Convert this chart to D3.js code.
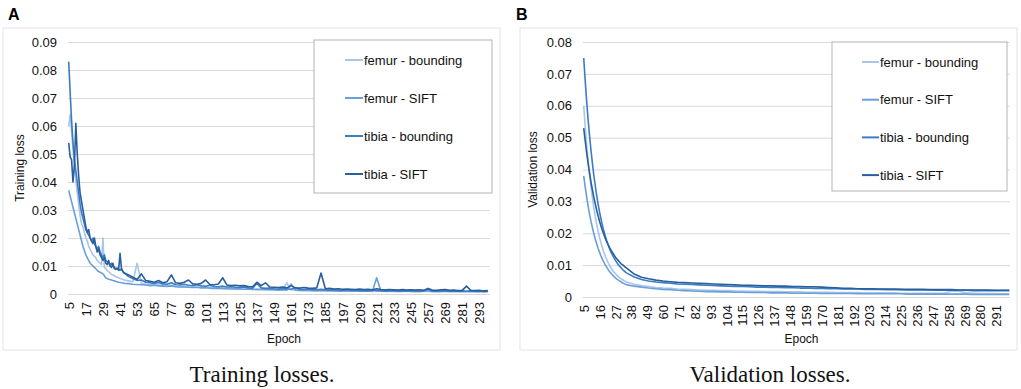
<!DOCTYPE html>
<html>
<head>
<meta charset="utf-8">
<script src="https://cdn.jsdelivr.net/npm/d3@7"></script>
<style>
  body { margin: 0; background: #fff; }
  svg { display: block; font-family: "Liberation Sans", Arial, sans-serif; }
</style>
</head>
<body>
<div id="chart"></div>
<script>
// ---- data ----
const seriesNames = ["femur - bounding", "femur - SIFT", "tibia - bounding", "tibia - SIFT"];
const seriesColors = ["#a9c5e8", "#6a9fd9", "#3b7cc5", "#2a5f9e"];

// every epoch on the category axis
const allEpochs = d3.range(5, 301);

// training: every epoch up to 44, then every 3rd epoch
const trainEpochs = d3.range(5, 45).concat(d3.range(47, 300, 3));
const trainYTicks = [0, 0.01, 0.02, 0.03, 0.04, 0.05, 0.06, 0.07, 0.08, 0.09];

const trainFemurBounding = [
  .060, .064, .058, .052, .046, .041, .036, .032, .028, .025,
  .024, .022, .020, .019, .017, .016, .015, .014, .0135, .013,
  .012, .0115, .011, .0105, .020, .0095, .009, .0085, .008, .0075,
  .007, .0068, .0065, .0062, .006, .0058, .0056, .0054, .0052, .005,
  .0047, .0044, .0110, .0038, .0035, .0034, .0032, .0033, .0030, .0029,
  .0031, .0027, .0026, .0028, .0025, .0024, .0025, .0023, .0022, .0024,
  .0021, .0020, .0022, .0019, .0020, .0018, .0019, .0017, .0018, .0016,
  .0017, .0016, .0017, .0015, .0016, .0015, .0014, .0040, .0015, .0014,
  .0013, .0014, .0013, .0012, .0013, .0012, .0013, .0011, .0012, .0011,
  .0012, .0010, .0011, .0010, .0011, .0010, .0011, .0009, .0010, .0011,
  .0009, .0010, .0009, .0010, .0009, .0010, .0009, .0008, .0009, .0010,
  .0009, .0008, .0009, .0008, .0009, .0008, .0009, .0008, .0008, .0009,
  .0008, .0007, .0008, .0007, .0008
];
const trainFemurSift = [
  .037, .035, .033, .031, .029, .027, .025, .023, .021, .019,
  .017, .0155, .014, .013, .012, .011, .0105, .010, .0095, .009,
  .0085, .008, .0078, .0075, .0072, .0065, .0058, .0055, .0053, .0052,
  .005, .0048, .0047, .0045, .0044, .0042, .0041, .004, .0039, .0038,
  .0037, .0035, .0034, .0033, .0032, .0030, .0031, .0029, .0028, .0027,
  .0029, .0026, .0025, .0026, .0024, .0023, .0024, .0022, .0023, .0021,
  .0020, .0021, .0019, .0020, .0018, .0019, .0018, .0017, .0018, .0016,
  .0017, .0016, .0015, .0016, .0015, .0014, .0015, .0014, .0035, .0014,
  .0013, .0014, .0013, .0012, .0013, .0012, .0013, .0012, .0011, .0012,
  .0011, .0012, .0011, .0010, .0011, .0010, .0011, .0010, .0058, .0011,
  .0010, .0011, .0010, .0009, .0010, .0011, .0009, .0010, .0009, .0010,
  .0012, .0009, .0010, .0009, .0012, .0009, .0010, .0009, .0010, .0009,
  .0010, .0009, .0010, .0009, .0009
];
const trainTibiaBounding = [
  .083, .072, .062, .054, .048, .044, .040, .036, .032, .029,
  .027, .025, .023, .022, .021, .020, .019, .020, .018, .017,
  .016, .017, .015, .014, .013, .014, .012, .0115, .011, .0105,
  .011, .010, .0095, .009, .0092, .0088, .0085, .009, .008, .0075,
  .0062, .0055, .0048, .0050, .0042, .0040, .0038, .0041, .0036, .0035,
  .0040, .0033, .0032, .0035, .0031, .0030, .0033, .0029, .0028, .0031,
  .0027, .0026, .0028, .0025, .0026, .0024, .0023, .0025, .0022, .0021,
  .0038, .0022, .0020, .0021, .0019, .0018, .0020, .0018, .0017, .0022,
  .0017, .0016, .0018, .0016, .0015, .0017, .0015, .0014, .0016, .0014,
  .0013, .0015, .0013, .0014, .0012, .0013, .0012, .0014, .0012, .0013,
  .0011, .0012, .0013, .0011, .0012, .0011, .0013, .0011, .0010, .0012,
  .0018, .0011, .0010, .0012, .0011, .0010, .0011, .0010, .0011, .0010,
  .0011, .0010, .0011, .0009, .0010
];
const trainTibiaSift = [
  .054, .049, .048, .040, .046, .061, .050, .042, .036, .033,
  .030, .027, .024, .022, .023, .020, .019, .018, .020, .017,
  .015, .016, .014, .013, .012, .013, .011, .0105, .012, .010,
  .0095, .011, .009, .0088, .0092, .0085, .0145, .009, .008, .0075,
  .0068, .0060, .0052, .0072, .0048, .0045, .0042, .0048, .0040, .0044,
  .0068, .0040, .0038, .0042, .0050, .0036, .0035, .0038, .0050, .0034,
  .0033, .0036, .0058, .0032, .0030, .0031, .0029, .0030, .0027, .0026,
  .0042, .0030, .0040, .0025, .0024, .0023, .0025, .0022, .0030, .0022,
  .0021, .0023, .0021, .0020, .0022, .0075, .0019, .0020, .0018, .0019,
  .0017, .0018, .0017, .0016, .0018, .0016, .0017, .0015, .0019, .0016,
  .0015, .0016, .0015, .0014, .0016, .0014, .0015, .0014, .0015, .0013,
  .0020, .0014, .0013, .0015, .0016, .0013, .0014, .0012, .0013, .0028,
  .0013, .0012, .0013, .0011, .0012
];

// validation: every epoch up to 34, then every 5th epoch
const valEpochs = d3.range(5, 35).concat(d3.range(35, 301, 5));
const valYTicks = [0, 0.01, 0.02, 0.03, 0.04, 0.05, 0.06, 0.07, 0.08];

const valFemurBounding = [
  .0600, .0537, .0480, .0431, .0386, .0346, .0312, .0280, .0252, .0228,
  .0206, .0186, .0169, .0154, .0140, .0127, .0117, .0107, .0098, .0091,
  .0084, .0078, .0073, .0068, .0064, .0060, .0057, .0054, .0051, .0049,
  .0046, .0040, .0036, .0033, .0030, .0028, .0027, .0025, .0024, .0023,
  .0022, .0021, .0021, .0020, .0020, .0019, .0019, .0018, .0018, .0017,
  .0017, .0017, .0016, .0016, .0016, .0015, .0015, .0015, .0015, .0014,
  .0014, .0014, .0014, .0013, .0013, .0013, .0013, .0013, .0012, .0012,
  .0012, .0012, .0012, .0012, .0012, .0019, .0018, .0013, .0012, .0011,
  .0011, .0011, .0010, .0010
];
const valFemurSift = [
  .0380, .0346, .0315, .0287, .0261, .0238, .0218, .0199, .0182, .0167,
  .0152, .0140, .0128, .0118, .0109, .0100, .0093, .0086, .0079, .0074,
  .0069, .0064, .0060, .0056, .0053, .0050, .0047, .0044, .0042, .0040,
  .0038, .0034, .0031, .0028, .0026, .0024, .0023, .0021, .0020, .0019,
  .0018, .0017, .0017, .0016, .0016, .0015, .0015, .0014, .0014, .0014,
  .0013, .0013, .0013, .0012, .0012, .0012, .0012, .0011, .0011, .0011,
  .0011, .0011, .0010, .0010, .0010, .0010, .0010, .0010, .0010, .0009,
  .0009, .0009, .0009, .0009, .0009, .0009, .0009, .0009, .0008, .0008,
  .0008, .0008, .0008, .0008
];
const valTibiaBounding = [
  .0750, .0680, .0616, .0559, .0508, .0462, .0420, .0382, .0349, .0318,
  .0291, .0266, .0244, .0224, .0206, .0190, .0176, .0163, .0151, .0140,
  .0131, .0123, .0115, .0108, .0101, .0096, .0091, .0086, .0082, .0078,
  .0075, .0063, .0055, .0050, .0047, .0045, .0043, .0041, .0040, .0039,
  .0038, .0037, .0036, .0035, .0034, .0033, .0033, .0032, .0031, .0031,
  .0030, .0030, .0029, .0029, .0028, .0028, .0027, .0027, .0026, .0026,
  .0025, .0025, .0025, .0024, .0024, .0024, .0023, .0023, .0023, .0022,
  .0022, .0022, .0022, .0021, .0021, .0021, .0021, .0021, .0020, .0020,
  .0020, .0020, .0020, .0020
];
const valTibiaSift = [
  .0530, .0491, .0454, .0421, .0390, .0362, .0337, .0313, .0292, .0272,
  .0254, .0237, .0222, .0208, .0196, .0184, .0173, .0163, .0154, .0146,
  .0139, .0132, .0125, .0119, .0114, .0109, .0104, .0101, .0097, .0093,
  .0090, .0072, .0062, .0057, .0053, .0050, .0048, .0046, .0045, .0044,
  .0043, .0042, .0041, .0040, .0039, .0038, .0037, .0037, .0036, .0035,
  .0035, .0034, .0034, .0033, .0033, .0032, .0032, .0031, .0030, .0029,
  .0027, .0027, .0026, .0026, .0026, .0025, .0025, .0025, .0024, .0024,
  .0024, .0024, .0023, .0023, .0023, .0023, .0022, .0022, .0022, .0022,
  .0022, .0021, .0021, .0021
];

const width = 1021, height = 389;
const svg = d3.select("#chart").append("svg")
    .attr("width", width).attr("height", height)
    .attr("viewBox", [0, 0, width, height]);

const drawPanel = (opt) => {
    // outer frame
    svg.append("rect")
        .attr("x", opt.frame[0]).attr("y", opt.frame[1])
        .attr("width", opt.frame[2]).attr("height", opt.frame[3])
        .attr("fill", "#fff").attr("stroke", "#e3e3e3");

    svg.append("text")
        .attr("x", opt.letterX).attr("y", 20)
        .style("font-size", "16px").style("font-weight", "bold")
        .text(opt.letter);

    const xScale = d3.scalePoint()
        .domain(allEpochs)
        .range([opt.left, opt.right])
        .padding(0.5);
    const yScale = d3.scaleLinear()
        .domain([0, d3.max(opt.yTicks)])
        .range([opt.bottom, opt.top]);

    // horizontal grid
    svg.append("g")
        .attr("transform", `translate(${opt.left},0)`)
        .call(d3.axisLeft(yScale).tickValues(opt.yTicks).tickSize(-(opt.right - opt.left)).tickFormat(""))
        .call(g => g.select(".domain").remove())
        .call(g => g.selectAll("line").attr("stroke", "#d9d9d9"));

    // y labels
    svg.append("g")
        .attr("transform", `translate(${opt.left - 11},0)`)
        .call(d3.axisLeft(yScale).tickValues(opt.yTicks).tickSize(0).tickPadding(0)
            .tickFormat(d => d === 0 ? "0" : d3.format(".2f")(d)))
        .call(g => g.select(".domain").remove())
        .selectAll("text")
        .style("font-size", "13px").style("font-family", "'Liberation Sans', Arial, sans-serif")
        .attr("fill", "#111");

    // x labels, rotated
    const xGroup = svg.append("g")
        .attr("transform", `translate(0,${opt.bottom})`)
        .call(d3.axisBottom(xScale).tickValues(allEpochs.filter(e => (e - 5) % opt.labelStep === 0)).tickSize(0))
        .call(g => g.select(".domain").remove());
    xGroup.selectAll("text")
        .style("font-size", "13px").style("font-family", "'Liberation Sans', Arial, sans-serif")
        .attr("fill", "#111")
        .style("text-anchor", "end")
        .attr("x", -8).attr("y", 0).attr("dy", "0.35em")
        .attr("transform", "rotate(-90)");

    // lines
    const line = d3.line()
        .x((d, i) => xScale(opt.epochs[i]))
        .y(d => yScale(d));
    opt.series.forEach((s, i) => {
        svg.append("path")
            .datum(s)
            .attr("fill", "none")
            .attr("stroke", seriesColors[i])
            .attr("stroke-width", 1.6)
            .attr("stroke-linejoin", "round")
            .attr("d", line);
    });

    // axis titles
    svg.append("text")
        .attr("transform", `translate(${opt.yTitleX},${(opt.top + opt.bottom) / 2}) rotate(-90)`)
        .attr("text-anchor", "middle").attr("dy", "0.35em")
        .style("font-size", "12px").attr("fill", "#111")
        .text(opt.yTitle);
    svg.append("text")
        .attr("x", (opt.left + opt.right) / 2 + 5).attr("y", 343)
        .attr("text-anchor", "middle")
        .style("font-size", "12px").attr("fill", "#111")
        .text("Epoch");

    // legend
    const lg = svg.append("g");
    lg.append("rect")
        .attr("x", opt.legend.x).attr("y", opt.legend.y)
        .attr("width", opt.legend.w).attr("height", opt.legend.h)
        .attr("fill", "#fff").attr("stroke", "#b4b4b4");
    seriesNames.forEach((name, i) => {
        const y = opt.legend.y + 20 + i * opt.legend.step;
        lg.append("line")
            .attr("x1", opt.legend.lx).attr("x2", opt.legend.lx + opt.legend.lw)
            .attr("y1", y).attr("y2", y)
            .attr("stroke", seriesColors[i]).attr("stroke-width", 2);
        lg.append("text")
            .attr("x", opt.legend.lx + opt.legend.lw + 1).attr("y", y).attr("dy", "0.35em")
            .style("font-size", "13px").attr("fill", "#111")
            .text(name);
    });

    // caption under the panel
    svg.append("text")
        .attr("x", opt.captionX).attr("y", 382)
        .attr("text-anchor", "middle")
        .style("font-family", "'Liberation Serif', 'Times New Roman', serif")
        .style("font-size", "23px").attr("fill", "#111")
        .text(opt.caption);
};

drawPanel({
    letter: "A", letterX: 8, frame: [3, 28, 497, 322],
    left: 68, right: 490, top: 42, bottom: 294,
    yTicks: trainYTicks, labelStep: 12, epochs: trainEpochs,
    series: [trainFemurBounding, trainFemurSift, trainTibiaBounding, trainTibiaSift],
    yTitle: "Training loss", yTitleX: 20,
    legend: {x: 314, y: 40, w: 178, h: 153, step: 38, lx: 345, lw: 18},
    caption: "Training losses.", captionX: 262
});

drawPanel({
    letter: "B", letterX: 516, frame: [520, 28, 497, 322],
    left: 583, right: 1010, top: 42, bottom: 297,
    yTicks: valYTicks, labelStep: 11, epochs: valEpochs,
    series: [valFemurBounding, valFemurSift, valTibiaBounding, valTibiaSift],
    yTitle: "Validation loss", yTitleX: 533,
    legend: {x: 832, y: 42, w: 175, h: 149, step: 37.7, lx: 862, lw: 17},
    caption: "Validation losses.", captionX: 770
});
</script>
</body>
</html>
